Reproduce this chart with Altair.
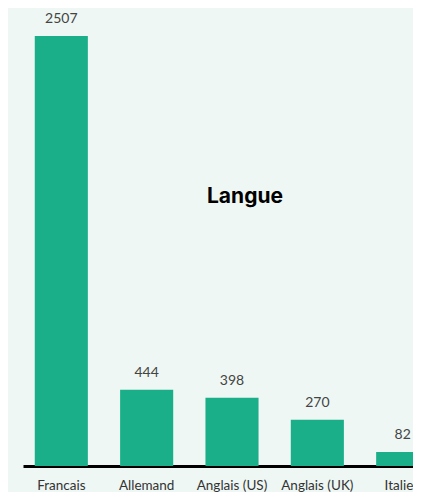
import altair as alt
import pandas as pd

categories = ["Francais", "Allemand", "Anglais (US)", "Anglais (UK)", "Italien"]
values = [2507, 444, 398, 270, 82]
title_text = ["Langue"]

df = pd.DataFrame({"langue": categories, "n": values})

FONT = "Lato"
BAR = "#1aaf88"
BG = "#eef7f3"

x = alt.X(
    "langue:N",
    sort=categories,
    title=None,
    scale=alt.Scale(range=[0, 418], paddingInner=0.378, paddingOuter=0.138),
    axis=alt.Axis(
        domain=True, domainColor="#000000", domainWidth=3,
        ticks=False, labelAngle=0, labelPadding=12,
        labelFont=FONT, labelFontSize=13.5, labelColor="#333333",
        labelBaseline="top", grid=False,
    ),
)
y = alt.Y("n:Q", title=None, axis=None,
          scale=alt.Scale(domain=[0, 2507], nice=False, zero=True))

base = alt.Chart(df)
bars = base.mark_bar(color=BAR).encode(x=x, y=y)
labels = base.mark_text(
    dy=-10, baseline="bottom", font=FONT, fontSize=14, color="#444444"
).encode(x=x, y=y, text="n:Q")

title = alt.Chart(pd.DataFrame({"t": title_text})).mark_text(
    font="Inter", fontSize=21, fontWeight="bold", color="#000000", baseline="middle"
).encode(x=alt.value(222), y=alt.value(161), text="t:N")

chart = alt.layer(bars, labels, title).properties(
    width=390, height=430,
    autosize=alt.AutoSizeParams(type="none"),
    padding={"left": 15, "top": 28, "right": 0, "bottom": 26},
    background=BG,
).configure_view(stroke=None)

chart.save("out.html", embed_options={"renderer": "svg", "actions": False})
